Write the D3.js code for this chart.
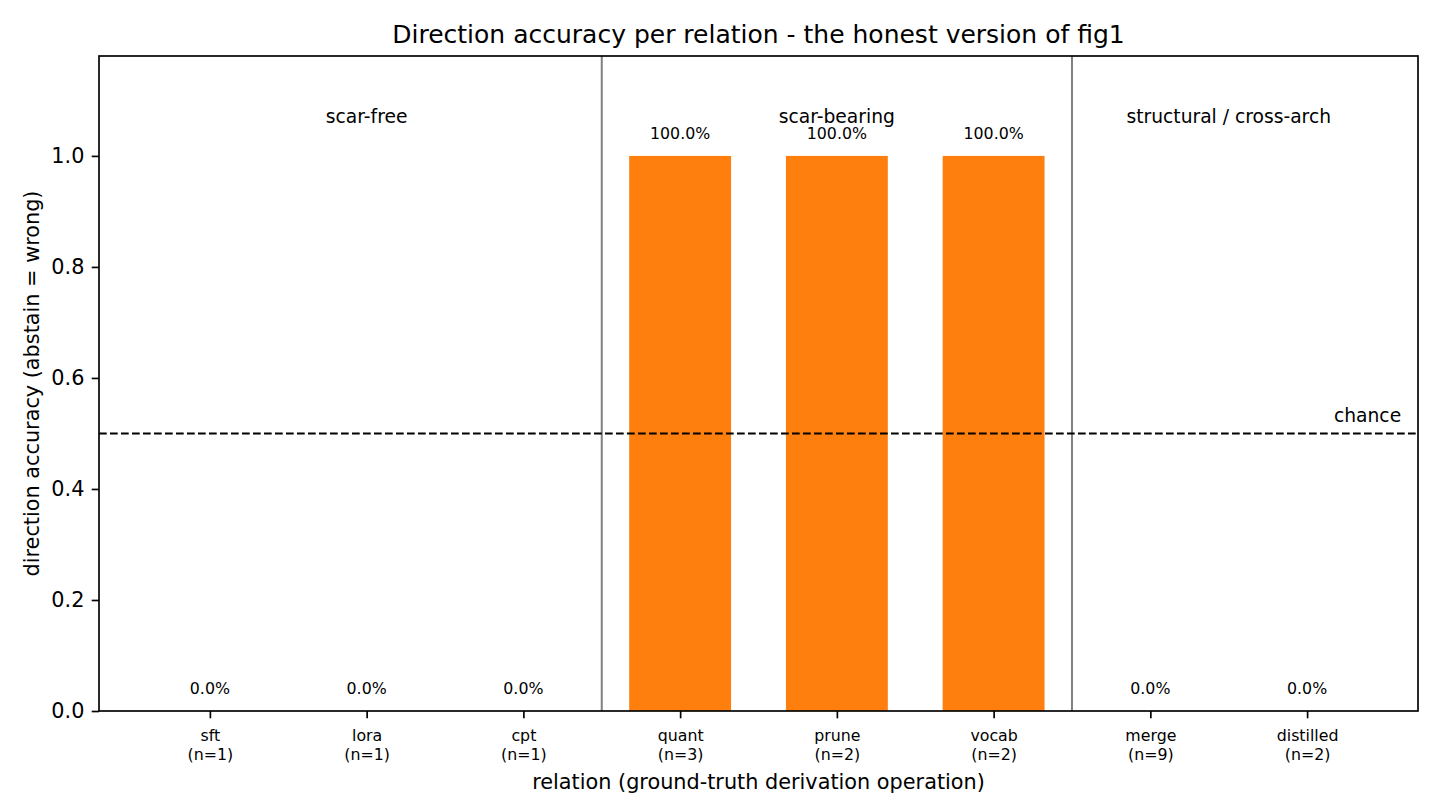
<!DOCTYPE html>
<html>
<head>
<meta charset="utf-8">
<script src="https://cdn.jsdelivr.net/npm/d3@7"></script>
<style>
  html, body { margin: 0; padding: 0; background: #fff; }
  svg { display: block; font-family: "DejaVu Sans", sans-serif; }
</style>
</head>
<body>
<svg id="chart" width="1440" height="810"></svg>
<script>
// ---- data ----
const categories = ["sft", "lora", "cpt", "quant", "prune", "vocab", "merge", "distilled"];
const counts     = [1, 1, 1, 3, 2, 2, 9, 2];
const accuracy   = [0.0, 0.0, 0.0, 1.0, 1.0, 1.0, 0.0, 0.0];
const groupLabels = ["scar-free", "scar-bearing", "structural / cross-arch"];
const groupStart  = [0, 3, 6];
const groupEnd    = [2, 5, 7];
const yTicks = [0.0, 0.2, 0.4, 0.6, 0.8, 1.0];
const chanceLevel = 0.5;

// ---- layout ----
const svg = d3.select("#chart");
const L = 99, R = 1418, T = 56, B = 711;
const barWidth = 0.65;
const n = categories.length;
const pad = (n - 1 + barWidth) * 0.05 + barWidth / 2;

const x = d3.scaleLinear().domain([-pad, n - 1 + pad]).range([L, R]);
const y = d3.scaleLinear().domain([0, 1.18]).range([B, T]);

svg.append("rect").attr("width", 1440).attr("height", 810).attr("fill", "#fff");

const g = svg.append("g");

// bars
g.selectAll("rect.bar").data(accuracy).join("rect")
  .attr("class", "bar")
  .attr("x", (d, i) => x(i - barWidth / 2))
  .attr("width", (d, i) => x(i + barWidth / 2) - x(i - barWidth / 2))
  .attr("y", d => y(d))
  .attr("height", d => y(0) - y(d))
  .attr("fill", "#ff7f0e");

// value labels
g.selectAll("text.val").data(accuracy).join("text")
  .attr("class", "val")
  .attr("x", (d, i) => x(i))
  .attr("y", d => y(d + 0.02) - 5.5)
  .attr("text-anchor", "middle")
  .attr("font-size", "15.8px")
  .attr("fill", "#000")
  .text(d => (d * 100).toFixed(1) + "%");

// group separators
const seps = groupEnd.slice(0, -1).map(e => e + 0.5);
g.selectAll("line.sep").data(seps).join("line")
  .attr("class", "sep")
  .attr("x1", d => x(d)).attr("x2", d => x(d))
  .attr("y1", T).attr("y2", B)
  .attr("stroke", "#808080").attr("stroke-width", 2);

// group labels
g.selectAll("text.grp").data(groupLabels).join("text")
  .attr("class", "grp")
  .attr("x", (d, i) => x((groupStart[i] + groupEnd[i]) / 2))
  .attr("y", y(1.07) + 6.2)
  .attr("text-anchor", "middle")
  .attr("font-size", "18.7px")
  .attr("fill", "#000")
  .text(d => d);

// chance line
g.append("line")
  .attr("x1", L).attr("x2", R)
  .attr("y1", y(chanceLevel)).attr("y2", y(chanceLevel))
  .attr("stroke", "#000").attr("stroke-width", 2.1)
  .attr("stroke-dasharray", "7.7,3.3");
g.append("text")
  .attr("x", x(n - 1 + 0.6))
  .attr("y", y(chanceLevel + 0.02))
  .attr("text-anchor", "end")
  .attr("font-size", "18.7px")
  .attr("fill", "#000")
  .text("chance");

// axes frame
svg.append("rect")
  .attr("x", L).attr("y", T).attr("width", R - L).attr("height", B - T)
  .attr("fill", "none").attr("stroke", "#000").attr("stroke-width", 1.67);

// y axis
const yAxis = svg.append("g")
  .attr("transform", `translate(${L},0)`)
  .call(d3.axisLeft(y).tickValues(yTicks).tickFormat(d3.format(".1f")).tickSize(7.3).tickPadding(7.3));
yAxis.select(".domain").remove();
yAxis.selectAll(".tick line").attr("stroke", "#000").attr("stroke-width", 1.67);
yAxis.selectAll(".tick text").attr("font-size", "20.8px").attr("font-family", "DejaVu Sans").attr("fill", "#000");

// x axis
const xAxis = svg.append("g")
  .attr("transform", `translate(0,${B})`)
  .call(d3.axisBottom(x).tickValues(d3.range(n)).tickFormat(() => "").tickSize(7.3));
xAxis.select(".domain").remove();
xAxis.selectAll(".tick line").attr("stroke", "#000").attr("stroke-width", 1.67);
xAxis.selectAll(".tick").each(function(d) {
  const t = d3.select(this).append("text")
    .attr("text-anchor", "middle")
    .attr("font-size", "15.8px")
    .attr("font-family", "DejaVu Sans")
    .attr("fill", "#000");
  t.append("tspan").attr("x", 0).attr("y", 741 - B).text(categories[d]);
  t.append("tspan").attr("x", 0).attr("y", 760 - B).text(`(n=${counts[d]})`);
});

// axis labels
svg.append("text")
  .attr("x", (L + R) / 2).attr("y", 789)
  .attr("text-anchor", "middle")
  .attr("font-size", "20.8px")
  .text("relation (ground-truth derivation operation)");
svg.append("text")
  .attr("transform", `translate(39,${(T + B) / 2}) rotate(-90)`)
  .attr("text-anchor", "middle")
  .attr("font-size", "20.8px")
  .text("direction accuracy (abstain = wrong)");

// title
svg.append("text")
  .attr("x", (L + R) / 2).attr("y", 43.3)
  .attr("text-anchor", "middle")
  .attr("font-size", "25px")
  .text("Direction accuracy per relation - the honest version of fig1");
</script>
</body>
</html>
